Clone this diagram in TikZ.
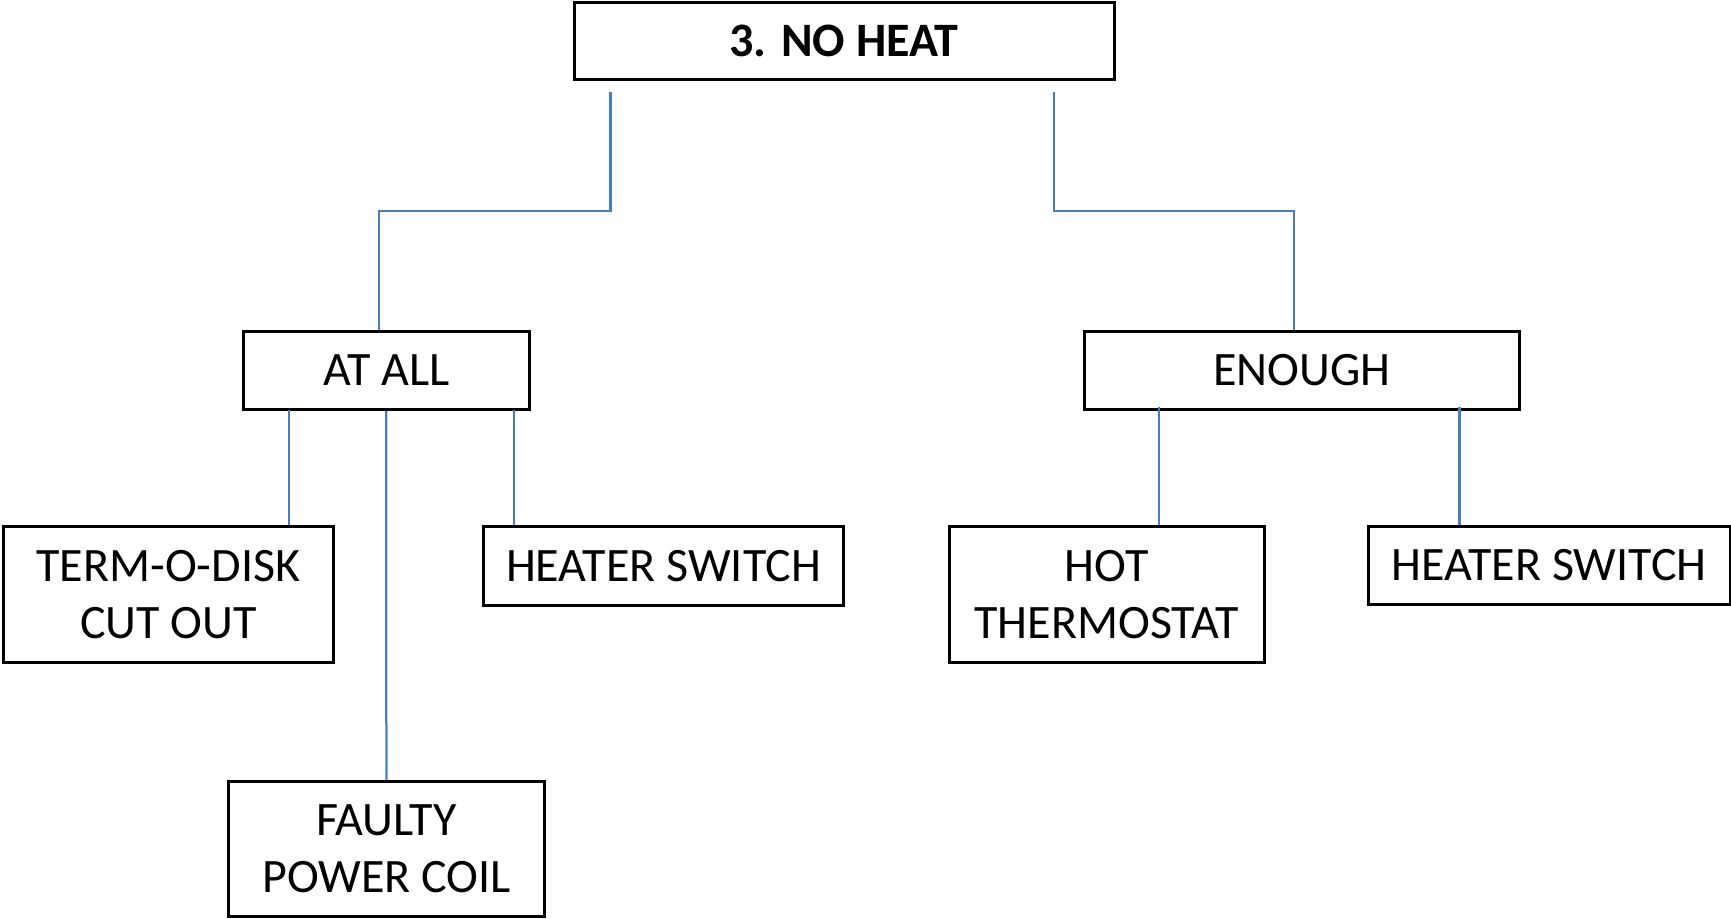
\documentclass[tikz,border=0pt]{standalone}
\usepackage{fontspec}
\setmainfont{Carlito}
\definecolor{linkblue}{RGB}{74,126,187}
\tikzset{
  box/.style={draw, line width=3pt, inner sep=0pt, align=center,
    font=\fontsize{48pt}{57.5pt}\selectfont},
  link/.style={draw=linkblue, line width=2.25pt}
}
\begin{document}
\begin{tikzpicture}[x=1pt, y=-1pt]
  \useasboundingbox[fill=white] (0, 0) rectangle (1731, 918);
  % Draw the top box and the two middle boxes.
  \node[box, minimum width=540pt, minimum height=77.5pt, font=\fontsize{48pt}{57.5pt}\selectfont\bfseries]
    (noheat) at (844, 40.8) {3. NO HEAT};
  \node[box, minimum width=286pt, minimum height=78.6pt] (atall) at (386.2, 370.3) {AT ALL};
  \node[box, minimum width=435pt, minimum height=78.6pt] (enough) at (1301.6, 370.3) {ENOUGH};
  % Draw the boxes with the causes.
  \node[box, minimum width=330pt, minimum height=135.8pt] (termo) at (168.4, 594.5)
    {TERM-O-DISK\\CUT OUT};
  \node[box, minimum width=360pt, minimum height=78.4pt] (switchA) at (663.5, 565.8)
    {HEATER SWITCH};
  \node[box, minimum width=315.8pt, minimum height=134.7pt] (faulty) at (386.4, 849)
    {FAULTY\\POWER COIL};
  \node[box, minimum width=314.6pt, minimum height=135.8pt] (hot) at (1106.7, 594.5)
    {HOT\\THERMOSTAT};
  \node[box, minimum width=362pt, minimum height=78pt] (switchB) at (1549, 565.3)
    {HEATER SWITCH};
  % Corner points of the upper connectors.
  \coordinate (topA) at (610.5, 91.6);
  \coordinate (topB) at (1054.3, 91.6);
  \coordinate (bendA) at (378.7, 211);
  \coordinate (bendB) at (1293.9, 211);
  % Tap points under the middle boxes.
  \coordinate (tapA) at (289, 409.6);
  \coordinate (tapB) at (514, 409.6);
  \coordinate (tapC) at (1159, 407);
  \coordinate (tapD) at (1459.5, 407);
  % Draw the connectors.
  \draw[link] (topA) |- (bendA) -- (bendA |- atall.north);
  \draw[link] (topB) |- (bendB) -- (bendB |- enough.north);
  \draw[link] (tapA) -- (tapA |- termo.north);
  \draw[link] (atall.south) -- (faulty.north);
  \draw[link] (tapB) -- (tapB |- switchA.north);
  \draw[link] (tapC) -- (tapC |- hot.north);
  \draw[link] (tapD) -- (tapD |- switchB.north);
\end{tikzpicture}
\end{document}
